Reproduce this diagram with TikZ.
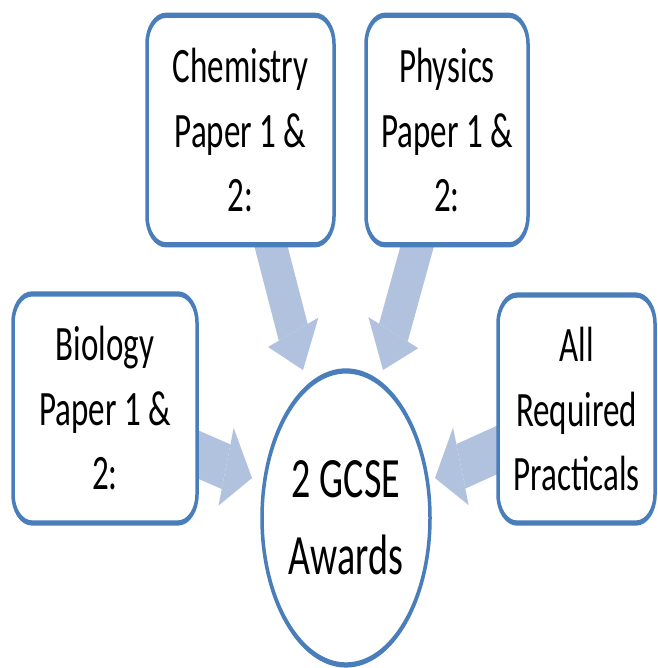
\documentclass[tikz,border=0pt]{standalone}
\usepackage{fontspec}
\setmainfont{Carlito}
\usetikzlibrary{arrows.meta,shapes.geometric}
\definecolor{bordblue}{RGB}{74,126,187}
\definecolor{arrblue}{RGB}{176,194,222}
\tikzset{
  box/.style={draw=bordblue, line width=3.5pt, fill=white, rounded corners=19pt,
    align=center, inner sep=0pt, font=\fontsize{33}{43}\selectfont},
  goal/.style={ellipse, draw=bordblue, line width=3.5pt, fill=white, align=center,
    inner sep=0pt, font=\fontsize{38}{51}\selectfont},
  blockarrow/.style={draw=arrblue, line width=31pt,
    -{Triangle[width=54pt,length=27pt,line width=0pt,fill=arrblue]}},
}
\begin{document}
\begin{tikzpicture}[x=1pt,y=1pt]
\useasboundingbox (0,0) rectangle (657,-668);
\begin{scope}[transform canvas={yscale=1.5}]
  % arrow end points
  \coordinate (chemS) at (259,-133.3);
  \coordinate (chemT) at (303,-246.7);
  \coordinate (physS) at (430,-133.3);
  \coordinate (physT) at (383,-246.7);
  \coordinate (bioS) at (150,-289);
  \coordinate (bioT) at (252,-318.7);
  \coordinate (pracS) at (540,-287);
  \coordinate (pracT) at (435,-318.7);
  \draw[blockarrow] (chemS) -- (chemT);
  \draw[blockarrow] (physS) -- (physT);
  \draw[blockarrow] (bioS) -- (bioT);
  \draw[blockarrow] (pracS) -- (pracT);
  % boxes
  \node[box, minimum width=187pt, minimum height=153pt] (chem) at (240.5,-86.7)
    {Chemistry\\Paper 1 \&\\2:};
  \node[box, minimum width=162pt, minimum height=153pt] (phys) at (447,-86.7)
    {Physics\\Paper 1 \&\\2:};
  \node[box, minimum width=184pt, minimum height=152.7pt] (bio) at (105,-272.3)
    {Biology\\Paper 1 \&\\2:};
  \node[box, minimum width=157pt, minimum height=152pt] (prac) at (576.5,-272.7)
    {All\\Required\\Practicals};
  \node[goal, minimum width=168pt, minimum height=196pt] (gcse) at (346,-345.3)
    {2 GCSE\\Awards};
\end{scope}
\end{tikzpicture}
\end{document}
